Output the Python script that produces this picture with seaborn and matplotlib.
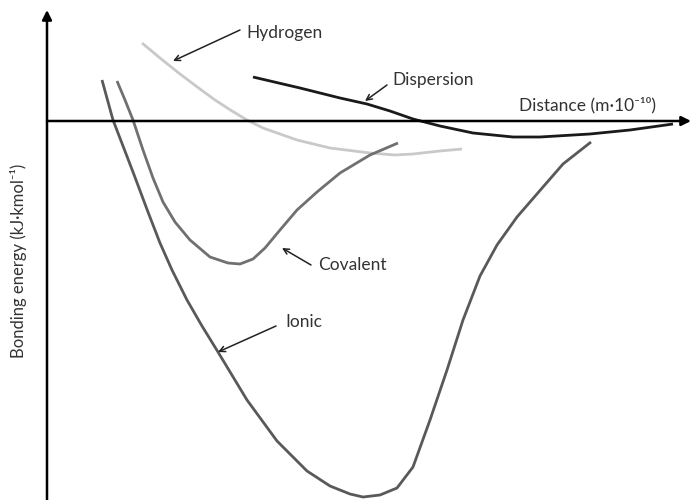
import numpy as np
import pandas as pd
import seaborn as sns
import matplotlib.pyplot as plt

# Estimated curve values (distance, bonding energy) in arbitrary units
hydrogen_x = [0.95, 1.13, 1.33, 1.53, 1.68, 1.85, 2.00, 2.16, 2.33, 2.50, 2.83, 3.23,
              3.48, 3.66, 3.93, 4.15]
hydrogen_y = [0.78, 0.63, 0.47, 0.32, 0.21, 0.10, 0.01, -0.07, -0.13, -0.19, -0.27, -0.32,
              -0.34, -0.33, -0.30, -0.28]

dispersion_x = [2.06, 2.53, 2.93, 3.20, 3.43, 3.66, 3.93, 4.26, 4.66, 4.93, 5.43, 5.83, 6.26]
dispersion_y = [0.44, 0.33, 0.23, 0.17, 0.10, 0.02, -0.05, -0.12, -0.16, -0.16, -0.13, -0.09,
                -0.03]

covalent_x = [0.70, 0.78, 0.86, 0.96, 1.06, 1.16, 1.28, 1.43, 1.63, 1.81, 1.93, 2.06, 2.18,
              2.33, 2.50, 2.70, 2.93, 3.23, 3.51]
covalent_y = [0.40, 0.21, 0.01, -0.29, -0.57, -0.81, -1.01, -1.19, -1.36, -1.42, -1.43, -1.38,
              -1.27, -1.09, -0.89, -0.71, -0.52, -0.34, -0.22]

ionic_x = [0.55, 0.66, 0.86, 1.01, 1.13, 1.25, 1.40, 1.55, 1.71, 2.00, 2.30, 2.60, 2.83,
           3.03, 3.16, 3.33, 3.50, 3.66, 3.83, 4.00, 4.16, 4.33, 4.50, 4.70, 4.96, 5.16, 5.44]
ionic_y = [0.41, 0.01, -0.51, -0.91, -1.22, -1.49, -1.79, -2.05, -2.31, -2.79, -3.20, -3.50,
           -3.65, -3.73, -3.76, -3.74, -3.67, -3.46, -2.99, -2.49, -1.99, -1.55, -1.24, -0.96,
           -0.66, -0.43, -0.21]

series = [
    ("Hydrogen", hydrogen_x, hydrogen_y, "#c9c9c9"),
    ("Dispersion", dispersion_x, dispersion_y, "#1a1a1a"),
    ("Covalent", covalent_x, covalent_y, "#707070"),
    ("Ionic", ionic_x, ionic_y, "#595959"),
]

# annotation labels: arrow tip, arrow start, text position
label_names = ["Hydrogen", "Dispersion", "Covalent", "Ionic"]
label_tips = [(1.26, 0.60), (3.18, 0.20), (2.35, -1.27), (1.71, -2.31)]
label_starts = [(1.93, 0.91), (3.40, 0.36), (2.64, -1.44), (2.29, -2.05)]
label_pos = [(1.99, 0.88), (3.45, 0.41), (2.71, -1.44), (2.38, -2.01)]

sns.set_style("white")
plt.rcParams["font.family"] = ["Lato", "DejaVu Sans"]

fig = plt.figure(figsize=(6.92, 5), dpi=100)
ax = fig.add_axes([0, 0, 1, 1])

for name, xs, ys, color in series:
    df = pd.DataFrame({"x": xs, "y": ys})
    sns.lineplot(data=df, x="x", y="y", ax=ax, color=color, linewidth=2.0,
                 sort=False, estimator=None, solid_joinstyle="round",
                 solid_capstyle="butt")

ax.set_xlim(-0.47, 6.45)
ax.set_ylim(-3.79, 1.21)
ax.axis("off")

# axes drawn as arrows
axis_arrow = dict(arrowstyle="-|>", color="black", lw=1.8, mutation_scale=14,
                  shrinkA=0, shrinkB=0)
ax.annotate("", xy=(0, 1.11), xytext=(0, -3.79), arrowprops=axis_arrow)
ax.annotate("", xy=(6.44, 0), xytext=(0, 0), arrowprops=axis_arrow)

text_color = "#333333"
ax.text(4.72, 0.16, "Distance (m·10⁻¹⁰)", fontsize=12.5, color=text_color,
        ha="left", va="center")
ax.text(-0.28, -1.40, "Bonding energy (kJ·kmol⁻¹)", fontsize=12, color=text_color,
        rotation=90, ha="center", va="center")

label_arrow = dict(arrowstyle="->", color="#222222", lw=1.1, shrinkA=0, shrinkB=0)
for name, tip, start, pos in zip(label_names, label_tips, label_starts, label_pos):
    ax.annotate("", xy=tip, xytext=start, arrowprops=label_arrow)
    ax.text(pos[0], pos[1], name, fontsize=12.5, color=text_color,
            ha="left", va="center")

fig.savefig("out.png", dpi=100)
